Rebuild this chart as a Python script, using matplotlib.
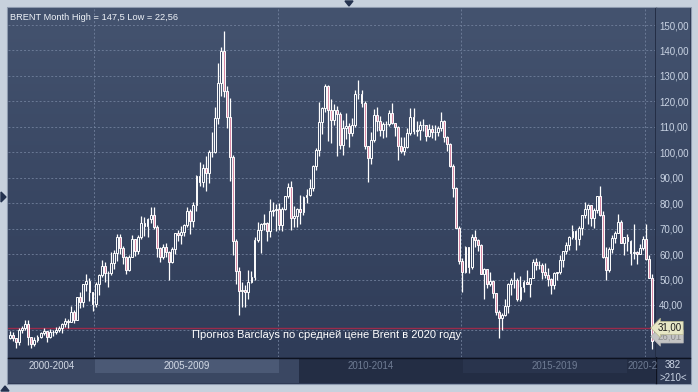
import numpy as np
import matplotlib
matplotlib.use("Agg")
import matplotlib.pyplot as plt
from matplotlib.patches import Rectangle, Polygon
from matplotlib.colors import LinearSegmentedColormap
import matplotlib.transforms as mtransforms

plt.rcParams['font.family'] = ['Liberation Sans', 'DejaVu Sans']

# ---------------- data: Brent monthly, Sep 2002 .. Mar 2020 ----------------
first_open = 27.0
closes = [
    28.3, 27.0, 25.3, 30.0,                                                    # 2002 Sep-Dec
    30.8, 32.7, 27.5, 24.8, 26.3, 27.6, 28.9, 29.6, 27.3, 29.5, 29.5, 30.2,   # 2003
    30.9, 32.4, 33.8, 33.3, 37.4, 34.0, 43.0, 41.0, 48.2, 49.6, 45.3, 40.2,   # 2004
    48.2, 51.8, 55.4, 52.7, 52.6, 56.6, 60.6, 66.9, 62.4, 58.9, 53.6, 58.9,   # 2005
    65.9, 61.4, 66.6, 72.4, 70.9, 73.9, 75.5, 70.8, 62.5, 59.0, 62.9, 61.0,   # 2006
    57.0, 62.0, 68.1, 67.4, 68.8, 71.4, 77.0, 73.0, 79.2, 90.5, 88.4, 93.9,   # 2007
    91.8, 100.1, 100.3, 113.5, 127.4, 139.8, 124.1, 114.0, 98.2, 65.0, 53.5, 45.6,  # 2008
    45.9, 45.1, 49.2, 50.9, 65.5, 69.3, 71.7, 72.4, 69.1, 77.0, 77.3, 77.9,   # 2009
    71.5, 77.6, 82.7, 86.2, 74.0, 75.0, 77.9, 76.7, 82.3, 83.2, 85.9, 94.8,   # 2010
    101.0, 111.8, 117.4, 125.9, 116.7, 112.5, 116.7, 114.9, 102.8, 109.6, 110.5, 107.4,  # 2011
    110.9, 122.7, 122.9, 119.5, 102.4, 97.8, 104.9, 114.6, 112.4, 108.7, 111.2, 111.1,   # 2012
    115.6, 111.4, 110.0, 102.4, 100.4, 102.2, 107.7, 114.0, 108.4, 108.8, 110.8, 110.8,  # 2013
    106.4, 109.1, 107.8, 108.1, 109.4, 112.4, 106.0, 103.2, 94.7, 85.9, 70.2, 57.3,      # 2014
    53.0, 62.6, 55.1, 66.8, 65.6, 63.6, 52.2, 54.2, 48.4, 49.6, 44.6, 37.3,   # 2015
    34.7, 36.0, 39.6, 48.1, 49.7, 49.7, 42.5, 47.0, 49.1, 48.3, 50.5, 56.8,   # 2016
    55.7, 55.6, 52.8, 51.7, 50.3, 47.9, 52.7, 52.9, 57.5, 61.4, 63.6, 66.9,   # 2017
    69.1, 65.8, 70.3, 75.2, 77.6, 79.4, 74.3, 77.4, 82.7, 75.5, 58.7, 53.8,   # 2018
    61.9, 66.3, 68.4, 72.8, 64.5, 66.6, 65.2, 60.4, 60.8, 60.2, 62.4, 66.0,   # 2019
    58.2, 50.5, 26.01,                                                         # 2020 Jan-Mar
]
highs = [
    29.9, 29.2, 27.1, 30.8,
    31.8, 34.0, 34.2, 26.6, 27.5, 28.3, 29.5, 31.0, 29.9, 30.6, 30.3, 31.4,
    31.9, 32.8, 34.9, 34.5, 39.5, 38.2, 43.2, 45.0, 48.4, 52.0, 50.7, 43.7,
    48.9, 52.0, 57.8, 57.0, 53.2, 60.8, 61.6, 68.0, 67.8, 63.1, 59.3, 59.8,
    67.4, 66.0, 67.4, 74.8, 74.5, 74.2, 78.6, 78.4, 71.4, 62.8, 63.9, 64.3,
    61.2, 62.6, 68.3, 69.3, 71.0, 72.0, 78.5, 77.7, 80.3, 91.0, 96.0, 95.2,
    98.5, 100.9, 108.0, 117.6, 135.1, 141.4, 147.5, 126.0, 121.5, 99.0, 65.9, 54.8,
    49.0, 47.8, 53.8, 53.5, 66.6, 72.5, 72.1, 75.9, 72.6, 81.8, 80.4, 79.7,
    80.0, 78.5, 82.9, 88.1, 88.6, 78.7, 78.3, 83.1, 82.7, 85.4, 89.6, 95.1,
    101.7, 119.8, 117.9, 127.0, 126.6, 121.0, 119.0, 118.0, 116.0, 112.6, 115.3, 111.6,
    113.5, 124.4, 128.4, 124.6, 120.3, 101.3, 107.8, 117.0, 117.9, 114.2, 111.9, 112.3,
    116.5, 119.2, 111.3, 110.2, 106.0, 106.1, 109.5, 117.3, 117.3, 112.2, 112.2, 113.0,
    110.0, 111.0, 110.6, 110.6, 110.5, 115.7, 112.8, 106.5, 103.7, 95.3, 86.3, 71.0,
    58.4, 63.0, 62.7, 67.8, 69.6, 66.0, 64.0, 54.7, 54.1, 53.1, 50.0, 44.6,
    38.0, 37.0, 42.5, 48.5, 50.5, 52.9, 50.6, 51.2, 49.9, 53.7, 50.8, 57.9,
    58.4, 57.3, 56.6, 56.4, 54.7, 50.6, 53.0, 53.1, 59.5, 61.4, 64.6, 67.1,
    71.3, 69.4, 71.1, 75.5, 80.5, 79.6, 79.4, 78.0, 83.0, 86.7, 76.8, 62.7,
    62.8, 67.5, 68.9, 75.6, 73.2, 66.8, 67.7, 65.4, 71.9, 61.3, 64.0, 67.2,
    71.8, 59.8, 52.3,
]
lows = [
    26.8, 25.7, 23.0, 24.2,
    29.0, 30.0, 24.3, 23.1, 23.7, 25.5, 27.2, 28.2, 25.5, 27.0, 27.9, 28.7,
    29.3, 28.9, 31.4, 30.8, 33.4, 33.1, 34.9, 38.9, 39.4, 45.5, 41.4, 37.5,
    39.4, 43.8, 51.0, 49.0, 46.9, 51.9, 54.2, 57.4, 60.2, 56.1, 52.3, 53.5,
    58.9, 59.2, 60.2, 66.1, 67.0, 66.8, 72.4, 69.7, 58.9, 56.9, 57.9, 58.8,
    49.9, 56.4, 59.9, 65.2, 64.0, 67.2, 70.6, 67.8, 70.8, 76.9, 86.8, 86.4,
    84.6, 87.9, 98.0, 99.6, 111.2, 122.0, 121.8, 109.7, 88.6, 59.8, 48.1, 36.2,
    39.3, 39.4, 42.5, 48.6, 49.7, 64.7, 60.6, 69.4, 65.0, 66.9, 75.0, 69.2,
    69.6, 69.0, 77.5, 82.2, 69.3, 70.8, 70.6, 71.7, 75.5, 80.2, 82.9, 84.8,
    93.0, 98.7, 107.0, 115.8, 104.5, 103.6, 110.6, 98.7, 101.4, 99.0, 105.3, 102.2,
    106.2, 110.0, 120.9, 117.6, 101.3, 88.5, 95.4, 104.1, 108.2, 106.5, 105.5, 106.0,
    110.4, 111.1, 106.3, 96.8, 99.8, 99.0, 101.8, 106.8, 107.1, 106.2, 104.9, 108.3,
    104.6, 105.9, 105.5, 104.9, 106.4, 108.4, 104.2, 100.6, 94.3, 82.6, 70.1, 56.2,
    45.2, 52.5, 52.5, 54.0, 62.8, 61.4, 52.0, 42.2, 46.6, 47.4, 42.8, 36.0,
    27.1, 30.0, 35.7, 36.8, 44.1, 46.6, 41.5, 41.6, 45.1, 48.2, 43.1, 51.6,
    53.6, 54.3, 50.3, 50.8, 47.6, 44.4, 46.3, 49.7, 52.0, 55.1, 60.2, 61.6,
    66.0, 61.8, 63.6, 67.6, 74.2, 71.8, 71.2, 70.3, 76.3, 74.8, 58.4, 50.0,
    52.8, 60.5, 64.5, 68.3, 64.5, 59.5, 61.3, 55.9, 57.9, 56.2, 60.0, 61.7,
    57.5, 50.5, 22.56,
]
opens = [first_open] + closes[:-1]          # monthly open = previous month close

period_labels = ["2000-2004", "2005-2009", "2010-2014", "2015-2019", "2020-2"]
period_start_idx = [28, 88, 148, 208]       # Jan 2005, Jan 2010, Jan 2015, Jan 2020
price_levels = list(range(30, 151, 10))
label_levels = list(range(40, 151, 10))
forecast_level = 31.0
last_price = 26.01
title_text = "BRENT Month High = 147,5 Low = 22,56"
forecast_text = "Прогноз Barclays по средней цене Brent в 2020 году"

# ---------------- figure ----------------
W, H = 698, 392
fig = plt.figure(figsize=(W / 100, H / 100), dpi=100, facecolor='#c7d1dd')

def px_axes(x0, y0, x1, y1, **kw):
    return fig.add_axes([x0 / W, 1 - y1 / H, (x1 - x0) / W, (y1 - y0) / H], **kw)

# background / frame axes in pixel coordinates
bg = px_axes(0, 0, W, H, zorder=0)
bg.set_xlim(0, W); bg.set_ylim(H, 0); bg.axis('off')
bg.add_patch(Rectangle((7, 7), 684, 377, facecolor='#2a3550', edgecolor='#8d9aae', lw=0.8))
# bottom band
bg.add_patch(Rectangle((8, 358), 291, 25, facecolor='#3a4762', edgecolor='none'))
bg.add_patch(Rectangle((299, 358), 356, 25, facecolor='#232d44', edgecolor='none'))
bg.add_patch(Rectangle((95, 359), 184, 14, facecolor='#4b5975', edgecolor='none'))
bg.add_patch(Rectangle((463, 359), 164, 14, facecolor='#29344d', edgecolor='none'))
bg.add_patch(Rectangle((656, 358), 34, 25, facecolor='#2e3a55', edgecolor='none'))
# separators
bg.plot([8, 690], [357.5, 357.5], color='#0d1220', lw=1.0)
bg.plot([655.5, 655.5], [8, 383], color='#0d1220', lw=1.0)
# little navigation triangles
bg.add_patch(Polygon([[345, 1], [353, 1], [349, 6]], closed=True, color='#24324f'))
bg.add_patch(Polygon([[1, 192], [1, 202], [6, 197]], closed=True, color='#24324f'))
bg.add_patch(Polygon([[1, 391], [9, 391], [5, 386]], closed=True, color='#24324f'))

label_x = [52, 187, 371, 555, 643]
label_c = ['#d3dae6', '#d3dae6', '#6f7c94', '#6f7c94', '#6f7c94']
for lab, lx, lc in zip(period_labels, label_x, label_c):
    bg.text(lx, 366, lab, ha='center', va='center', fontsize=7, color=lc, clip_on=True)
bg.text(673, 365, "382", ha='center', va='center', fontsize=7, color='#c9d3e3')
bg.text(673, 378, ">210<", ha='center', va='center', fontsize=7, color='#c9d3e3')

# right price panel background (gradient)
grad_cmap = LinearSegmentedColormap.from_list('g', ['#2f3c58', '#44536f'])
rp = px_axes(656, 8, 690, 357, zorder=0.5)
rp.imshow(np.linspace(0, 1, 256).reshape(-1, 1), cmap=grad_cmap, aspect='auto',
          origin='lower', extent=[0, 1, 0, 1])
rp.axis('off')

# ---------------- main chart ----------------
ax = px_axes(8, 8, 655, 357, zorder=1)
n = len(closes)
x = np.arange(n)
xlim = (-0.65, n - 1 + 1.0)
ylim = (19.57, 156.68)
ax.imshow(np.linspace(0, 1, 256).reshape(-1, 1), cmap=grad_cmap, aspect='auto',
          origin='lower', extent=[xlim[0], xlim[1], ylim[0], ylim[1]], zorder=0)

for lv in price_levels:
    ax.axhline(lv, color='#7584a0', lw=0.7, ls=(0, (2, 2)), alpha=0.8, zorder=1)
for si in period_start_idx:
    ax.axvline(si - 0.4, color='#7584a0', lw=0.7, ls=(0, (2, 2)), alpha=0.8, zorder=1)

o = np.array(opens); c = np.array(closes); h = np.array(highs); l = np.array(lows)
top = np.maximum(o, c); bot = np.minimum(o, c)
ax.vlines(x, top, h, color='white', lw=0.9, zorder=3)
ax.vlines(x, l, bot, color='white', lw=0.9, zorder=3)
up = c >= o
ax.bar(x[up], (top - bot)[up], bottom=bot[up], width=0.62, facecolor='#3c4a67',
       edgecolor='white', linewidth=0.7, zorder=4)
ax.bar(x[~up], (top - bot)[~up], bottom=bot[~up], width=0.62, facecolor='#d98aa6',
       edgecolor='white', linewidth=0.7, zorder=4)

ax.axhline(forecast_level, color='#9a2b4b', lw=1.0, zorder=2)

ax.set_xlim(*xlim)
ax.set_ylim(*ylim)
ax.set_xticks([])
ax.yaxis.tick_right()
ax.set_yticks(label_levels)
ax.set_yticklabels([f"{v:.2f}".replace('.', ',') for v in label_levels])
ax.tick_params(axis='y', length=0, pad=3, labelsize=7, labelcolor='#c9d3e3')
for s in ax.spines.values():
    s.set_visible(False)

ax.text(0.003, 0.985, title_text, transform=ax.transAxes, ha='left', va='top',
        fontsize=6.7, color='#eef2f8')
ax.text(0.493, 0.063, forecast_text, transform=ax.transAxes, ha='center',
        va='center', fontsize=8, color='white', zorder=5)

# price markers on the right scale (last-price tag sits just under the forecast tag)
trans = mtransforms.blended_transform_factory(ax.transAxes, ax.transData)
ax.text(1.004, forecast_level - 3.4, f"{last_price:.2f}".replace('.', ','), transform=trans,
        ha='left', va='center', fontsize=7, color='#8e8e8e', clip_on=False, zorder=6,
        bbox=dict(boxstyle='larrow,pad=0.15', facecolor='#c4c4c4', edgecolor='#b0b0b0', lw=0.5))
ax.text(1.004, forecast_level, f"{forecast_level:.2f}".replace('.', ','), transform=trans,
        ha='left', va='center', fontsize=7, color='#1c1c1c', clip_on=False, zorder=7,
        bbox=dict(boxstyle='larrow,pad=0.15', facecolor='#e7e7c6', edgecolor='#b8b890', lw=0.5))

fig.savefig("out.png", dpi=100, facecolor=fig.get_facecolor())
